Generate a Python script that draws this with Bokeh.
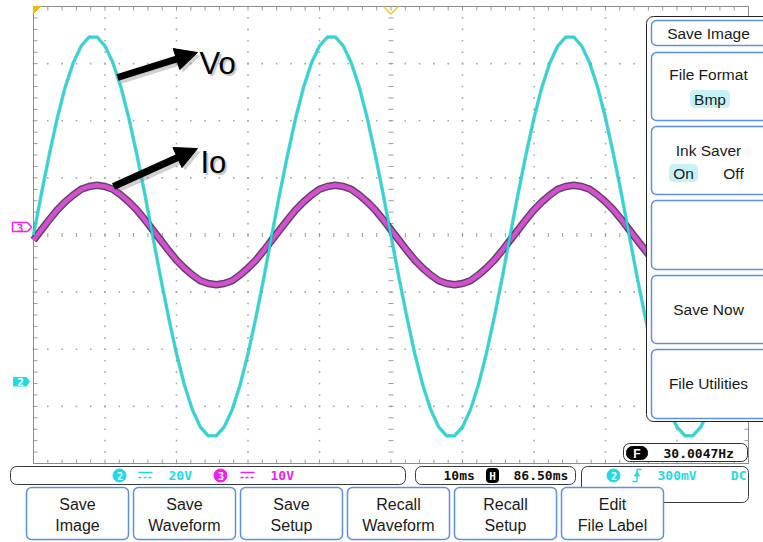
import numpy as np
from bokeh.plotting import figure
from bokeh.models import Range1d, BoxAnnotation, Label, Arrow, NormalHead
from bokeh.embed import file_html
from bokeh.resources import INLINE

t_ms = [0, 1.11, 2.22, 3.33, 4.44, 5.56, 6.67, 7.78, 8.89, 10.0,
        11.11, 12.22, 13.33, 14.44, 15.56, 16.67, 17.78, 18.89, 20.0, 21.11,
        22.22, 23.33, 24.44, 25.56, 26.67, 27.78, 28.89, 30.0, 31.11, 32.22,
        33.33, 34.44, 35.56, 36.67, 37.78, 38.89, 40.0, 41.11, 42.22, 43.33,
        44.44, 45.56, 46.67, 47.78, 48.89, 50.0, 51.11, 52.22, 53.33, 54.44,
        55.56, 56.67, 57.78, 58.89, 60.0, 61.11, 62.22, 63.33, 64.44, 65.56,
        66.67, 67.78, 68.89, 70.0, 71.11, 72.22, 73.33, 74.44, 75.56, 76.67,
        77.78, 78.89, 80.0, 81.11, 82.22, 83.33, 84.44, 85.56, 86.67, 87.78,
        88.89, 90.0, 91.11, 92.22, 93.33, 94.44, 95.56, 96.67, 97.78, 98.89, 100.0]

# Vo on channel 2 (volts)
vo_ch2_v = [0.0, 14.5, 28.3, 41.0, 51.8, 60.3, 66.2, 69.3, 69.3, 66.2, 60.3, 51.8, 41.0, 28.3, 14.5,
            -0.3, -14.9, -28.8, -41.6, -52.5, -61.2, -67.2, -70.3, -70.3, -67.2, -61.2, -52.5, -41.6, -28.8, -14.9,
            0.0, 14.5, 28.3, 41.0, 51.8, 60.3, 66.2, 69.3, 69.3, 66.2, 60.3, 51.8, 41.0, 28.3, 14.5,
            -0.3, -14.9, -28.8, -41.6, -52.5, -61.2, -67.2, -70.3, -70.3, -67.2, -61.2, -52.5, -41.6, -28.8, -14.9,
            0.0, 14.5, 28.3, 41.0, 51.8, 60.3, 66.2, 69.3, 69.3, 66.2, 60.3, 51.8, 41.0, 28.3, 14.5,
            -0.3, -14.9, -28.8, -41.6, -52.5, -61.2, -67.2, -70.3, -70.3, -67.2, -61.2, -52.5, -41.6, -28.8, -14.9,
            0.0]

# Io on channel 3 (volts on the probe)
io_ch3_v = [-0.9, 0.9, 2.7, 4.4, 5.8, 7.0, 8.0, 8.5, 8.7, 8.5, 8.0, 7.0, 5.8, 4.4, 2.7,
            0.9, -0.9, -2.7, -4.4, -5.8, -7.0, -8.0, -8.5, -8.7, -8.5, -8.0, -7.0, -5.8, -4.4, -2.7,
            -0.9, 0.9, 2.7, 4.4, 5.8, 7.0, 8.0, 8.5, 8.7, 8.5, 8.0, 7.0, 5.8, 4.4, 2.7,
            0.9, -0.9, -2.7, -4.4, -5.8, -7.0, -8.0, -8.5, -8.7, -8.5, -8.0, -7.0, -5.8, -4.4, -2.7,
            -0.9, 0.9, 2.7, 4.4, 5.8, 7.0, 8.0, 8.5, 8.7, 8.5, 8.0, 7.0, 5.8, 4.4, 2.7,
            0.9, -0.9, -2.7, -4.4, -5.8, -7.0, -8.0, -8.5, -8.7, -8.5, -8.0, -7.0, -5.8, -4.4, -2.7,
            -0.9]

ms_per_div = 10
ch2_v_per_div = 20
ch3_v_per_div = 10
ch2_scale_label = "20V"
ch3_scale_label = "10V"
timebase_label = "10ms"
hpos_label = "86.50ms"
trig_level_label = "300mV"
trig_coupling_label = "DC"
freq_label = "30.0047Hz"
bottom_menu = [("Save", "Image"), ("Save", "Waveform"), ("Save", "Setup"),
               ("Recall", "Waveform"), ("Recall", "Setup"), ("Edit", "File Label")]
side_title = "Save Image"
annot_vo = "Vo"
annot_io = "Io"

# ---------------- screen layout ----------------
W, H = 763, 542
GX0, GX1, GY0, GY1 = 33, 748, 6, 463
XDIV, YDIV = 10, 8
dx = (GX1 - GX0) / XDIV
dy = (GY1 - GY0) / YDIV
xc = (GX0 + GX1) / 2
yc = (GY0 + GY1) / 2
px_per_ms = dx / ms_per_div


def v_range(v_per_div):
    ppv = dy / v_per_div
    return Range1d(-(H - yc) / ppv, yc / ppv)


p = figure(width=W, height=H,
           x_range=Range1d(-GX0 / px_per_ms, (W - GX0) / px_per_ms),
           y_range=v_range(ch2_v_per_div),
           x_axis_type=None, y_axis_type=None,
           toolbar_location=None, output_backend="svg", min_border=0,
           outline_line_color=None, background_fill_color="white",
           border_fill_color="white")
p.extra_x_ranges = {"px": Range1d(0, W)}
p.extra_y_ranges = {"px": Range1d(H, 0), "ch3": v_range(ch3_v_per_div)}
PX = dict(x_range_name="px", y_range_name="px")

CYAN = "#1fdbe6"
MAG = "#ee22ea"
GRAY = "#9a9a9a"
BTN_BLUE = "#5e90e2"
TXT = "#1a1a1a"

# ---------------- graticule ----------------
xs_minor = GX0 + dx * np.arange(0, XDIV * 5 + 1) / 5
ys_minor = GY0 + dy * np.arange(0, YDIV * 5 + 1) / 5
dots_x, dots_y = [], []
for i in range(1, XDIV):
    if i == XDIV // 2:
        continue
    dots_x += [GX0 + i * dx] * len(ys_minor)
    dots_y += list(ys_minor)
for j in range(1, YDIV):
    if j == YDIV // 2:
        continue
    dots_x += list(xs_minor)
    dots_y += [GY0 + j * dy] * len(xs_minor)
p.scatter(dots_x, dots_y, marker="square", size=1.6, fill_color="#a8a8a8",
          line_color=None, **PX)

tk = 4
p.segment(x0=xs_minor, x1=xs_minor, y0=yc - 2, y1=yc + 2, line_color=GRAY, line_width=1, **PX)
p.segment(x0=xc - 2.5, x1=xc + 2.5, y0=ys_minor, y1=ys_minor, line_color=GRAY, line_width=1, **PX)
p.segment(x0=xs_minor, x1=xs_minor, y0=GY0, y1=GY0 + tk, line_color=GRAY, line_width=1, **PX)
p.segment(x0=xs_minor, x1=xs_minor, y0=GY1 - tk, y1=GY1, line_color=GRAY, line_width=1, **PX)
p.segment(x0=GX0, x1=GX0 + tk, y0=ys_minor, y1=ys_minor, line_color=GRAY, line_width=1, **PX)
p.segment(x0=GX1 - tk, x1=GX1, y0=ys_minor, y1=ys_minor, line_color=GRAY, line_width=1, **PX)
p.quad(left=GX0, right=GX1, top=GY0, bottom=GY1, fill_color=None,
       line_color="#8c8c8c", line_width=1, **PX)

# ---------------- traces ----------------
p.line(t_ms, io_ch3_v, y_range_name="ch3", line_color="#3a163a", line_width=7.5,
       line_alpha=0.8, line_join="round")
p.line(t_ms, io_ch3_v, y_range_name="ch3", line_color="#d450d2", line_width=4.6,
       line_join="round")
p.line(t_ms, vo_ch2_v, line_color="#0d6a6c", line_width=3.6, line_alpha=0.4,
       line_join="round")
p.line(t_ms, vo_ch2_v, line_color="#1edcdc", line_width=2.3, line_join="round")

# ---------------- channel / trigger markers ----------------
p.patch([12, 27, 31, 27, 12], [222, 222, 226.5, 231, 231], fill_color="white",
        line_color=MAG, line_width=1.5, **PX)
p.patch([13, 26, 29, 26, 13], [377, 377, 381, 385.5, 385.5], fill_color=CYAN,
        line_color=CYAN, line_width=1, **PX)
p.patch([GX0, GX0 + 7, GX0], [GY0, GY0, GY0 + 7], fill_color="#f3b800",
        line_color="#f3b800", **PX)
p.line([xc - 7.5, xc, xc + 7.5], [GY0, GY0 + 7.5, GY0], line_color="#f5c43a",
       line_width=1.5, **PX)


def label(x, y, text, size="16px", color=TXT, font="Liberation Sans",
          align="center", style="normal", baseline="middle", alpha=1.0):
    p.add_layout(Label(x=x, y=y, text=text, text_font=font, text_font_size=size,
                       text_color=color, text_align=align, text_baseline=baseline,
                       text_font_style=style, text_alpha=alpha, **PX))


def box(l, r, t, b, line=BTN_BLUE, fill="white", lw=1.5, rad=5, falpha=1.0):
    p.add_layout(BoxAnnotation(left=l, right=r, top=t, bottom=b, fill_color=fill,
                               fill_alpha=falpha, line_color=line, line_alpha=1.0,
                               line_width=lw, border_radius=rad, **PX))


MONO = "DejaVu Sans Mono"
label(19.5, 227, "3", size="11px", color=MAG, font=MONO, style="bold")
label(20, 381.5, "2", size="11px", color="white", font=MONO, style="bold")

# ---------------- status bar ----------------
box(10, 405, 466, 484, line="#3a3a3a", fill=None, lw=1, rad=6, falpha=0)
box(415, 575, 466, 484, line="#3a3a3a", fill=None, lw=1, rad=6, falpha=0)
box(581, 748, 466, 502, line="#3a3a3a", fill=None, lw=1, rad=6, falpha=0)

p.scatter([119, 613], [475, 475], marker="circle", size=13, fill_color=CYAN,
          line_color=CYAN, **PX)
p.scatter([220], [475], marker="circle", size=13, fill_color=MAG, line_color=MAG, **PX)
for sx, col in [(138, CYAN), (240, MAG)]:
    p.line([sx, sx + 14], [472, 472], line_color=col, line_width=1.6, **PX)
    p.line([sx, sx + 14], [477, 477], line_color=col, line_width=1.6, line_dash="3 2", **PX)
p.line([632, 636.5, 636.5, 641], [481, 481, 469, 469], line_color=CYAN, line_width=1.4, **PX)
p.scatter([636.5], [474], marker="triangle", size=5, fill_color=CYAN, line_color=CYAN, **PX)

label(119.5, 475.5, "2", size="10px", color="white", font=MONO, style="bold")
label(220.5, 475.5, "3", size="10px", color="white", font=MONO, style="bold")
label(613.5, 475.5, "2", size="10px", color="white", font=MONO, style="bold")
label(168, 475, ch2_scale_label, size="13px", color=CYAN, font=MONO, style="bold", align="left")
label(270, 475, ch3_scale_label, size="13px", color=MAG, font=MONO, style="bold", align="left")
label(443, 475, timebase_label, size="13px", color="#111", font=MONO, style="bold", align="left")
box(486, 498, 468, 482, line="black", fill="black", lw=1, rad=3)
label(492, 475.5, "H", size="11px", color="white", font=MONO, style="bold")
label(513, 475, hpos_label, size="13px", color="#111", font=MONO, style="bold", align="left")
label(657, 475, trig_level_label, size="13px", color=CYAN, font=MONO, style="bold", align="left")
label(746, 475, trig_coupling_label, size="13px", color=CYAN, font=MONO, style="bold", align="right")

# frequency readout
box(623, 747, 443, 461, line="#333333", fill="white", lw=1, rad=6)
box(626, 647, 446, 459, line="black", fill="black", lw=1, rad=6)
label(636.5, 453, "F", size="12px", color="white", font="Liberation Sans", style="bold")
label(663, 452.5, freq_label, size="13px", color="#111", font=MONO, style="bold", align="left")

# ---------------- bottom soft keys ----------------
BTN_X0, BTN_STEP, BTN_W = 26, 107, 102
for k, (l1, l2) in enumerate(bottom_menu):
    left = BTN_X0 + k * BTN_STEP
    box(left, left + BTN_W, 487, 539)
    label(left + BTN_W / 2, 503.5, l1)
    label(left + BTN_W / 2, 524.5, l2)

# ---------------- side menu ----------------
box(646, 790, 16, 421, line="#222222", fill="white", lw=1, rad=7)
side_boxes = [(20, 45), (52, 120), (126, 194), (200, 269), (275, 343), (349, 418)]
for (t, b) in side_boxes:
    box(651, 790, t, b)
MX = 708
label(MX, 33, side_title, size="15.5px")
label(MX, 74, "File Format", size="15.5px")
box(690, 729, 90, 107, line="#c6f2f6", fill="#c6f2f6", lw=1, rad=4)
label(709.5, 99, "Bmp", size="15.5px")
label(MX, 150, "Ink Saver", size="15.5px")
box(669, 697, 164, 181, line="#c6f2f6", fill="#c6f2f6", lw=1, rad=4)
label(683, 173, "On", size="15.5px")
label(733, 173, "Off", size="15.5px")
label(MX, 309, "Save Now", size="15.5px")
label(MX, 383, "File Utilities", size="15.5px")

# ---------------- annotations Vo / Io ----------------
arrows = [((117, 77), (197, 52)), ((113, 186), (197, 148))]
for (x0, y0), (x1, y1) in arrows:
    p.add_layout(Arrow(x_start=x0 + 3, y_start=y0 + 3, x_end=x1 + 3, y_end=y1 + 3,
                       line_width=7, line_color="#777777", line_alpha=0.35,
                       end=NormalHead(size=22, fill_color="#777777", fill_alpha=0.35,
                                      line_color=None), **PX))
    p.add_layout(Arrow(x_start=x0, y_start=y0, x_end=x1, y_end=y1,
                       line_width=7, line_color="black",
                       end=NormalHead(size=22, fill_color="black", line_color="black"),
                       **PX))
for (tx, ty, txt) in [(199, 63, annot_vo), (200, 162, annot_io)]:
    label(tx + 2, ty + 2, txt, size="31px", color="#888888", align="left",
          baseline="alphabetic", alpha=0.45)
    label(tx, ty, txt, size="31px", color="black", align="left", baseline="alphabetic")

open("out.html", "w").write(file_html(p, INLINE))
